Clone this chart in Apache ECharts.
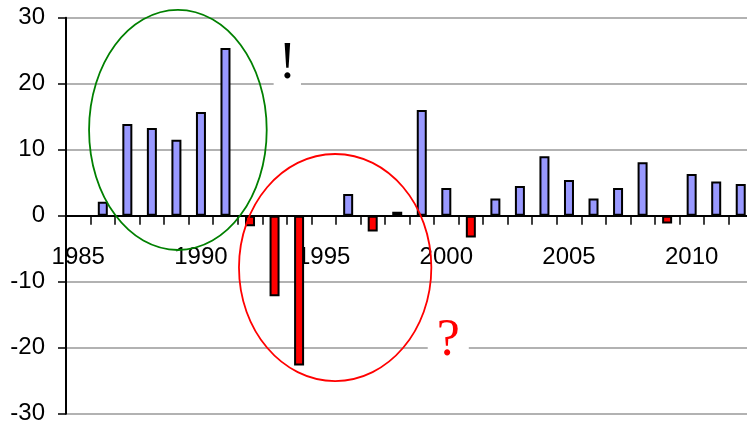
<!DOCTYPE html>
<html>
<head>
<meta charset="utf-8">
<script src="https://cdn.jsdelivr.net/npm/echarts@6/dist/echarts.min.js"></script>
<style>html,body{margin:0;padding:0;background:#fff}#c{width:747px;height:428px}</style>
</head>
<body>
<div id="c"></div>
<script>
// ---- data ----
const years = ['1985','1986','1987','1988','1989','1990','1991','1992','1993','1994','1995','1996','1997','1998',
  '1999','2000','2001','2002','2003','2004','2005','2006','2007','2008','2009','2010','2011','2012'];
const values = [null, 2.1, 13.9, 13.3, 11.5, 15.7, 25.4, -1.6, -12.2, -22.7, null, 3.3, -2.4, 0.6,
  16.0, 4.2, -3.3, 2.6, 4.5, 9.0, 5.4, 2.6, 4.2, 8.1, -1.2, 6.3, 5.2, 4.8];
const yTicks = [-30, -20, -10, 0, 10, 20, 30];
const xLabelYears = ['1985','1990','1995','2000','2005','2010'];

const chart = echarts.init(document.getElementById('c'), null, {renderer: 'canvas'});
const font = '"Liberation Sans", Arial, sans-serif';

chart.setOption({
  animation: false,
  backgroundColor: '#ffffff',
  grid: {left: 66, right: -6, top: 17.7, bottom: 14.3, containLabel: false, outerBoundsMode: 'none'},
  xAxis: {
    type: 'category',
    data: years,
    boundaryGap: true,
    axisLine: {onZero: true, lineStyle: {color: '#000', width: 2}},
    axisTick: {show: true, interval: 0, length: 9, lineStyle: {color: '#000', width: 1.5}},
    axisLabel: {
      interval: 0,
      formatter: v => xLabelYears.includes(v) ? v : '',
      fontSize: 24, color: '#000', fontFamily: font, margin: -168
    },
    splitLine: {show: false}
  },
  yAxis: {
    type: 'value',
    min: yTicks[0], max: yTicks[yTicks.length - 1], interval: 10,
    axisLine: {show: true, lineStyle: {color: '#000', width: 2}},
    axisTick: {show: true, length: 8, lineStyle: {color: '#000', width: 1.5}},
    axisLabel: {fontSize: 24, color: '#000', fontFamily: font, margin: 21},
    splitLine: {show: true, lineStyle: {color: '#999', width: 1.5}}
  },
  series: [{
    type: 'bar',
    data: values,
    barWidth: 10,
    itemStyle: {
      color: p => (p.value < 0 ? '#ff0000' : '#9999ff'),
      borderColor: '#000', borderWidth: 2
    }
  }]
});

// ---- annotations anchored in data space (category index, value) ----
const annotations = {
  green: {cx: 4.06, cy: 13.0, rx: 3.62, ry: 18.2, color: '#008000'},
  red: {cx: 10.47, cy: -7.85, rx: 3.92, ry: 17.2, color: '#ff0000'},
  bang: {x: 8.52, y: 22.9, text: '!', color: '#000', pad: [0, 5]},
  quest: {x: 15.08, y: -19.0, text: '?', color: '#ff0000', pad: [0, 9]}
};
const x0 = chart.convertToPixel({xAxisIndex: 0}, 0);
const step = chart.convertToPixel({xAxisIndex: 0}, 1) - x0;
const px = i => x0 + i * step;
const py = v => chart.convertToPixel({yAxisIndex: 0}, v);
const yUnit = py(0) - py(1);

const graphics = [];
['green', 'red'].forEach(k => {
  const a = annotations[k];
  graphics.push({
    type: 'ellipse', z: 100,
    shape: {cx: px(a.cx), cy: py(a.cy), rx: a.rx * step, ry: a.ry * yUnit},
    style: {fill: null, stroke: a.color, lineWidth: 1.8}
  });
});
['bang', 'quest'].forEach(k => {
  const a = annotations[k];
  graphics.push({
    type: 'text', z: 90,
    x: px(a.x), y: py(a.y),
    style: {
      text: a.text, fill: a.color, fontSize: 52,
      fontFamily: '"Liberation Serif", "Times New Roman", serif',
      align: 'center', verticalAlign: 'middle',
      backgroundColor: '#fff', padding: a.pad
    }
  });
});
chart.setOption({graphic: graphics});
</script>
</body>
</html>
